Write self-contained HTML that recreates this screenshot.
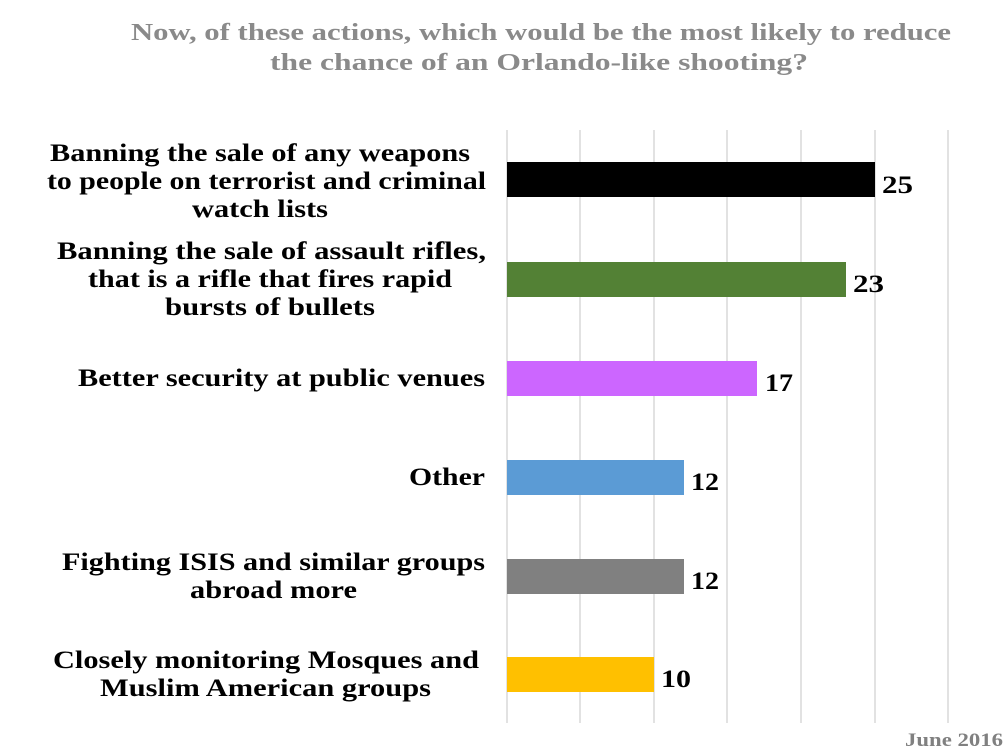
<!DOCTYPE html>
<html><head><meta charset="utf-8"><style>
html,body{margin:0;padding:0;background:#fff;}
svg{display:block;}
text{font-family:"Liberation Serif",serif;font-weight:bold;}
</style></head><body>
<svg width="1005" height="752" viewBox="0 0 1005 752">
<text x="131" y="40" font-size="24" fill="#8a8a8a" textLength="820" lengthAdjust="spacingAndGlyphs">Now, of these actions, which would be the most likely to reduce</text>
<text x="270" y="70" font-size="24" fill="#8a8a8a" textLength="538" lengthAdjust="spacingAndGlyphs">the chance of an Orlando-like shooting?</text>
<g stroke="#d9d9d9" stroke-width="1.5">
<line x1="507" y1="130" x2="507" y2="723"/>
<line x1="580" y1="130" x2="580" y2="723"/>
<line x1="654" y1="130" x2="654" y2="723"/>
<line x1="727" y1="130" x2="727" y2="723"/>
<line x1="801" y1="130" x2="801" y2="723"/>
<line x1="875" y1="130" x2="875" y2="723"/>
<line x1="948" y1="130" x2="948" y2="723"/>
</g>
<rect x="507" y="162" width="368" height="35" fill="#000"/>
<rect x="507" y="262" width="339" height="35" fill="#538135"/>
<rect x="507" y="361" width="250" height="35" fill="#cc66ff"/>
<rect x="507" y="460" width="177" height="35" fill="#5b9bd5"/>
<rect x="507" y="559" width="177" height="35" fill="#808080"/>
<rect x="507" y="657" width="147" height="35" fill="#ffc000"/>
<g font-size="25" fill="#000" lengthAdjust="spacingAndGlyphs">
<text x="882" y="193" textLength="31" lengthAdjust="spacingAndGlyphs">25</text>
<text x="853" y="292" textLength="31" lengthAdjust="spacingAndGlyphs">23</text>
<text x="765" y="391" textLength="28" lengthAdjust="spacingAndGlyphs">17</text>
<text x="691" y="490" textLength="28" lengthAdjust="spacingAndGlyphs">12</text>
<text x="691" y="589" textLength="28" lengthAdjust="spacingAndGlyphs">12</text>
<text x="661" y="687" textLength="30" lengthAdjust="spacingAndGlyphs">10</text>
</g>
<g font-size="25" fill="#000">
<text x="50" y="161" textLength="420" lengthAdjust="spacingAndGlyphs">Banning the sale of any weapons</text>
<text x="47" y="189" textLength="439" lengthAdjust="spacingAndGlyphs">to people on terrorist and criminal</text>
<text x="192" y="217" textLength="136" lengthAdjust="spacingAndGlyphs">watch lists</text>
<text x="57" y="259" textLength="429" lengthAdjust="spacingAndGlyphs">Banning the sale of assault rifles,</text>
<text x="88" y="287" textLength="364" lengthAdjust="spacingAndGlyphs">that is a rifle that fires rapid</text>
<text x="165" y="315" textLength="210" lengthAdjust="spacingAndGlyphs">bursts of bullets</text>
<text x="78" y="386" textLength="407" lengthAdjust="spacingAndGlyphs">Better security at public venues</text>
<text x="409" y="485" textLength="76" lengthAdjust="spacingAndGlyphs">Other</text>
<text x="62" y="570" textLength="423" lengthAdjust="spacingAndGlyphs">Fighting ISIS and similar groups</text>
<text x="190" y="598" textLength="167" lengthAdjust="spacingAndGlyphs">abroad more</text>
<text x="53" y="668" textLength="426" lengthAdjust="spacingAndGlyphs">Closely monitoring Mosques and</text>
<text x="100" y="696" textLength="331" lengthAdjust="spacingAndGlyphs">Muslim American groups</text>
</g>
<text x="905" y="746" font-size="19" fill="#808080" textLength="98" lengthAdjust="spacingAndGlyphs">June 2016</text>
</svg>
</body></html>
